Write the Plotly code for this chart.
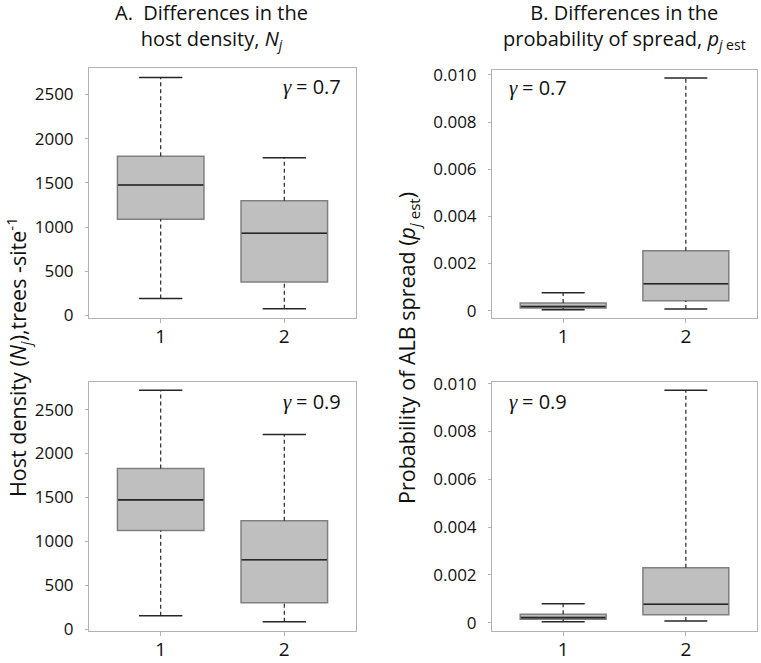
import plotly.graph_objects as go

# ---------------- data ----------------
categories = [1, 2]

# Panel A (host density N_j), gamma = 0.7
a07_low = [192, 76]
a07_q1 = [1088, 377]
a07_med = [1476, 930]
a07_q3 = [1800, 1298]
a07_up = [2692, 1784]

# Panel A (host density N_j), gamma = 0.9
a09_low = [155, 86]
a09_q1 = [1125, 302]
a09_med = [1473, 791]
a09_q3 = [1830, 1234]
a09_up = [2719, 2216]

# Panel B (probability of spread p_j est), gamma = 0.7
b07_low = [0.00004, 0.00007]
b07_q1 = [0.00011, 0.00042]
b07_med = [0.00018, 0.00114]
b07_q3 = [0.00033, 0.00254]
b07_up = [0.00076, 0.00987]

# Panel B (probability of spread p_j est), gamma = 0.9
b09_low = [0.00004, 0.00007]
b09_q1 = [0.00014, 0.00033]
b09_med = [0.00021, 0.00077]
b09_q3 = [0.00035, 0.00230]
b09_up = [0.00079, 0.00972]

a_ticks = [0, 500, 1000, 1500, 2000, 2500]
a_ticktext = ["0", "500", "1000", "1500", "2000", "2500"]
b_ticks = [0, 0.002, 0.004, 0.006, 0.008, 0.010]
b_ticktext = ["0", "0.002", "0.004", "0.006", "0.008", "0.010"]

# ---------------- styling ----------------
FONT = "Open Sans"
SERIF = "Liberation Serif"
W, H = 761, 663
BOX_W = 0.70
CAP_W = 0.35
FILL = "#bfbfbf"
BOX_LINE = "#808080"
DARK = "#262626"
FRAME = "#b3b3b3"

fig = go.Figure()

panels = [
    ("", (a07_low, a07_q1, a07_med, a07_q3, a07_up), (89, 356), (68, 318), [-30, 2800], a_ticks, a_ticktext),
    ("2", (b07_low, b07_q1, b07_med, b07_q3, b07_up), (492, 757), (70, 318), [-0.00031, 0.01021], b_ticks, b_ticktext),
    ("3", (a09_low, a09_q1, a09_med, a09_q3, a09_up), (89, 356), (382, 631), [-19, 2814], a_ticks, a_ticktext),
    ("4", (b09_low, b09_q1, b09_med, b09_q3, b09_up), (492, 757), (382, 631), [-0.00035, 0.01007], b_ticks, b_ticktext),
]

layout_axes = {}
for suf, (low, q1, med, q3, up), (xl, xr), (yt, yb), yr, tv, tt in panels:
    xa = "x" + suf
    ya = "y" + suf
    # whiskers (dashed)
    wx, wy = [], []
    for c, lo, a, b, hi in zip(categories, low, q1, q3, up):
        wx += [c, c, None, c, c, None]
        wy += [b, hi, None, lo, a, None]
    fig.add_trace(go.Scatter(x=wx, y=wy, mode="lines", xaxis=xa, yaxis=ya,
                             line=dict(color=DARK, width=1.2, dash="4px,3px"),
                             hoverinfo="skip", showlegend=False))
    # boxes
    fig.add_trace(go.Box(x=categories, q1=q1, median=med, q3=q3,
                         lowerfence=q1, upperfence=q3, width=BOX_W,
                         whiskerwidth=0, fillcolor=FILL,
                         line=dict(color=BOX_LINE, width=1.5),
                         xaxis=xa, yaxis=ya, showlegend=False, hoverinfo="skip"))
    # medians and caps
    mx, my, cx, cy = [], [], [], []
    for c, lo, m, hi in zip(categories, low, med, up):
        mx += [c - BOX_W / 2 + 0.005, c + BOX_W / 2 - 0.005, None]
        my += [m, m, None]
        cx += [c - CAP_W / 2, c + CAP_W / 2, None, c - CAP_W / 2, c + CAP_W / 2, None]
        cy += [hi, hi, None, lo, lo, None]
    fig.add_trace(go.Scatter(x=mx, y=my, mode="lines", xaxis=xa, yaxis=ya,
                             line=dict(color=DARK, width=1.6),
                             hoverinfo="skip", showlegend=False))
    fig.add_trace(go.Scatter(x=cx, y=cy, mode="lines", xaxis=xa, yaxis=ya,
                             line=dict(color=DARK, width=1.5),
                             hoverinfo="skip", showlegend=False))

    layout_axes["xaxis" + suf] = dict(
        domain=[xl / W, xr / W], range=[0.42, 2.58], anchor=ya,
        tickvals=categories, ticktext=[str(c) for c in categories],
        ticks="outside", ticklen=4, tickcolor=FRAME, ticklabelstandoff=-3,
        showline=True, mirror=True, linecolor=FRAME, linewidth=1,
        showgrid=False, zeroline=False, automargin=False,
        tickfont=dict(family=FONT, size=19, color="#111111"))
    layout_axes["yaxis" + suf] = dict(
        domain=[1 - yb / H, 1 - yt / H], range=yr, anchor=xa,
        tickvals=tv, ticktext=tt,
        ticks="outside", ticklen=3, tickcolor=FRAME, ticklabelstandoff=8,
        showline=True, mirror=True, linecolor=FRAME, linewidth=1,
        showgrid=False, zeroline=False, automargin=False,
        tickfont=dict(family=FONT, size=17, color="#111111"))

fig.update_layout(**layout_axes)

annotations = [
    dict(text="A.&nbsp;&nbsp;Differences in the<br>host density, <i>N<sub>j</sub></i>",
         x=212 / W, y=1, yshift=3, xanchor="center", yanchor="top",
         font=dict(size=20)),
    dict(text="B. Differences in the<br>probability of spread, <i>p</i><sub><i>j</i> est</sub>",
         x=624 / W, y=1, yshift=3, xanchor="center", yanchor="top",
         font=dict(size=20)),
    dict(text="Host density (<i>N<sub>j</sub></i>),trees -site<sup>-1</sup>",
         x=18 / W, y=1 - 357 / H, xanchor="center", yanchor="middle",
         textangle=-90, font=dict(size=21.5)),
    dict(text="Probability of ALB spread (<i>p</i><sub><i>j</i> est</sub>)",
         x=408 / W, y=1 - 348 / H, xanchor="center", yanchor="middle",
         textangle=-90, font=dict(size=21.5)),
]
# gamma labels: serif italic gamma + "= value"
gamma_labels = [(281, 87, "= 0.7"), (281, 402, "= 0.9"), (507, 88, "= 0.7"), (507, 402, "= 0.9")]
for gx, gy, txt in gamma_labels:
    annotations.append(dict(text="<i>γ</i>", x=gx / W, y=1 - gy / H, xanchor="left",
                            yanchor="middle", font=dict(size=21, family=SERIF)))
    annotations.append(dict(text=txt, x=(gx + 13) / W, y=1 - gy / H, xanchor="left",
                            yanchor="middle", font=dict(size=20)))
for a in annotations:
    a.update(xref="paper", yref="paper", showarrow=False)
    a["font"].setdefault("family", FONT)
    a["font"]["color"] = "#111111"

fig.update_layout(
    annotations=annotations,
    width=W, height=H,
    margin=dict(l=0, r=0, t=0, b=0, autoexpand=False),
    paper_bgcolor="white", plot_bgcolor="white",
    font=dict(family=FONT, color="#111111"),
    showlegend=False,
)

fig.write_html(
    "out.html",
    config={"displayModeBar": False, "staticPlot": True},
    post_script="document.documentElement.style.margin='0';document.body.style.margin='0';"
                "document.body.style.overflow='hidden';",
)
